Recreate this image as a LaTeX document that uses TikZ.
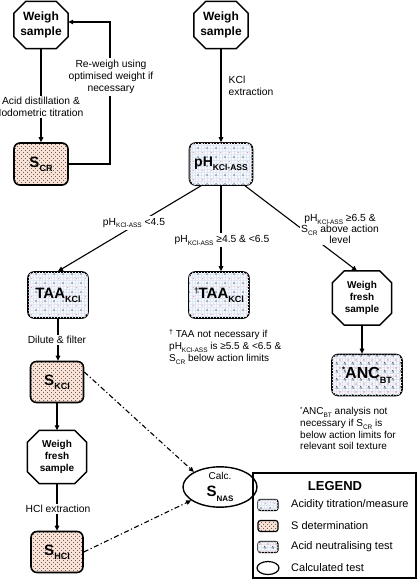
\documentclass[tikz,border=0pt]{standalone}
\usepackage{fontspec}
\setmainfont{Liberation Sans}
\usetikzlibrary{arrows.meta,shapes.geometric,patterns.meta,calc}
\newcommand\Sub[2]{\raisebox{-0.28em}{\fontsize{#1}{#1}\selectfont #2}}
\definecolor{acidbg}{RGB}{247,249,252}
\definecolor{hatchc}{RGB}{222,230,244}
\definecolor{sbg}{RGB}{250,226,214}
\newcommand\octo[7]{% name, x, y, width, height, font size, text
  \node[octt, minimum width=#4, minimum height=#5, #6] (#1) at (#2,#3) {#7};
  \draw[octl] ([xshift=12pt]#1.north west) -- ([xshift=-12pt]#1.north east) -- ([yshift=-12pt]#1.north east) -- ([yshift=12pt]#1.south east) -- ([xshift=-12pt]#1.south east) -- ([xshift=12pt]#1.south west) -- ([yshift=12pt]#1.south west) -- ([yshift=-12pt]#1.north west) -- cycle;
}
\begin{document}
\begin{tikzpicture}[x=1pt,y=-1pt,
  box/.style={rectangle, rounded corners=6pt, line width=1.6pt, draw, align=center, inner sep=0pt, font=\fontsize{15}{16}\selectfont\bfseries},
  acid/.style={fill=acidbg,
    postaction={pattern={Hatch[distance=3pt,line width=0.25pt]}, pattern color=hatchc},
    postaction={pattern={Dots[distance=9pt,radius=0.65pt]}, pattern color=black},
    postaction={pattern={Dots[distance=9pt,radius=0.7pt,xshift=4.5pt,yshift=4.5pt]}, pattern color=red!40}},
  sdet/.style={fill=sbg,
    postaction={pattern={Dots[distance=4pt,radius=0.55pt]}, pattern color=black},
    postaction={pattern={Dots[distance=4pt,radius=0.55pt,xshift=2pt,yshift=2pt]}, pattern color=black}},
  ancp/.style={fill=acidbg,
    postaction={pattern={Hatch[distance=3pt,line width=0.25pt]}, pattern color=hatchc},
    postaction={pattern={Dots[distance=8pt,radius=0.8pt,xshift=4pt,yshift=4pt]}, pattern color=red!45},
    postaction={pattern={Dots[distance=8pt,radius=0.5pt]}, pattern color=black},
    postaction={pattern={Dots[distance=8pt,radius=0.5pt,xshift=1.6pt]}, pattern color=black},
    postaction={pattern={Dots[distance=8pt,radius=0.5pt,xshift=0.8pt,yshift=1.4pt]}, pattern color=black}},
  octt/.style={rectangle, align=center, inner sep=0pt, font=\fontsize{12}{14.5}\selectfont\bfseries},
  octsmall/.style={font=\fontsize{10}{11.7}\selectfont\bfseries},
  octl/.style={line width=1.5pt, line join=miter},
  con/.style={line width=1.1pt, -{Triangle[length=5pt,width=4.5pt]}},
  dd/.style={con, dash pattern=on 5pt off 2.5pt on 1.2pt off 2.5pt},
  lab/.style={fill=white, inner sep=1.5pt, align=center, font=\fontsize{10.3}{12.3}\selectfont},
  note/.style={inner sep=0pt, align=left, font=\fontsize{10}{12.3}\selectfont},
  leg/.style={anchor=west, inner sep=0pt, font=\fontsize{11}{12}\selectfont},
  icon/.style={rectangle, rounded corners=2.5pt, line width=1.2pt, draw, minimum width=20pt, minimum height=11pt, inner sep=0pt},
]
\useasboundingbox (0,0) rectangle (418,580);

% octagons
\octo{w1}{41}{25}{54pt}{47pt}{}{Weigh\\sample}
\octo{w2}{221}{25}{54pt}{47pt}{}{Weigh\\sample}
\octo{w3}{362}{298}{59pt}{54pt}{octsmall}{Weigh\\fresh\\sample}
\octo{w4}{57}{457}{59pt}{53pt}{octsmall}{Weigh\\fresh\\sample}

% boxes
\node[box, sdet, minimum width=54pt, minimum height=42pt] (scr) at (41,164) {S\Sub{9}{CR}};
\node[box, acid, minimum width=63pt, minimum height=42pt, font=\fontsize{14}{15}\selectfont\bfseries] (ph) at (221,164) {pH\Sub{8.5}{KCl-ASS}};
\node[box, acid, minimum width=60pt, minimum height=46pt] (taa1) at (58,295) {TAA\Sub{9}{KCl}};
\node[box, acid, minimum width=60pt, minimum height=46pt] (taa2) at (219,295) {\raisebox{0.35em}{\fontsize{8}{8}\selectfont †}TAA\Sub{9}{KCl}};
\node[box, ancp, minimum width=70pt, minimum height=41pt, font=\fontsize{16}{17}\selectfont\bfseries] (anc) at (367,375) {\raisebox{0.4em}{\fontsize{8}{8}\selectfont *}ANC\Sub{9}{BT}};
\node[box, sdet, minimum width=53pt, minimum height=41pt] (skcl) at (57,382) {S\Sub{9}{KCl}};
\node[box, sdet, minimum width=52pt, minimum height=41pt] (shcl) at (57,552) {S\Sub{9}{HCl}};
\node[ellipse, draw, line width=1.4pt, minimum width=74pt, minimum height=40pt, inner sep=0pt, align=center, font=\fontsize{10}{17}\selectfont] (calc) at (220,487)
  {Calc.\\{\fontsize{15}{17}\selectfont\bfseries S\Sub{8}{NAS}}};

% connectors
\coordinate (rt) at (110,22);
\draw[con] (w1.south) -- (scr.north);
\draw[con] (scr.east) -| (rt) -- (w1.east |- rt);
\draw[con] (w2.south) -- (ph.north);
\draw[con] ([xshift=-20pt]ph.south) -- (taa1.north);
\draw[con] (ph.south) -- (ph.south |- taa2.north);
\draw[con] ([xshift=24pt]ph.south) -- ([xshift=-5pt]w3.north);
\draw[con] (w3.south) -- (w3.south |- anc.north);
\draw[con] (taa1.south) -- (taa1.south |- skcl.north);
\draw[con] (skcl.south) -- (w4.north);
\draw[con] (w4.south) -- (shcl.north);
\draw[dd] ([yshift=10pt]skcl.east) -- (calc.150);
\draw[dd] (shcl.east) -- (calc.205);

% labels on lines
\node[lab] (l1) at (41,107) {Acid distillation \&\\Iodometric titration};
\node[lab] (l2) at (111,77) {Re-weigh using\\optimised weight if\\necessary};
\node[lab, anchor=west, align=left] (l3) at (227,86) {KCl\\extraction};
\node[lab] (l4) at (134,223) {pH\Sub{6.5}{KCl-ASS} <4.5};
\node[lab] (l5) at (222,240) {pH\Sub{6.5}{KCl-ASS} ≥4.5 \& <6.5};
\node[lab, font=\fontsize{10.3}{11}\selectfont] (l6) at (340,229) {pH\Sub{6.5}{KCl-ASS} ≥6.5 \&\\S\Sub{6.5}{CR} above action\\level};
\node[lab] (l7) at (57,340) {Dilute \& filter};
\node[lab] (l8) at (58,509) {HCl extraction};

% notes
\node[note, anchor=north west] (n1) at (169,329) {\raisebox{0.3em}{\fontsize{7}{7}\selectfont †} TAA not necessary if\\pH\Sub{6.5}{KCl-ASS} is ≥5.5 \& <6.5 \&\\S\Sub{6.5}{CR} below action limits};
\node[note, anchor=north west, font=\fontsize{10}{11.7}\selectfont] (n2) at (300,407) {\raisebox{0.35em}{\fontsize{6}{6}\selectfont *}ANC\Sub{6.5}{BT} analysis not\\necessary if S\Sub{6.5}{CR} is\\below action limits for\\relevant soil texture};

% legend
\draw[line width=1.3pt] (253,473) rectangle (416,578);
\node[font=\fontsize{13}{13}\selectfont\bfseries] (lt) at (335,486) {LEGEND};
\node[icon, acid] (i1) at (268,505) {};
\node[icon, sdet] (i2) at (268,526) {};
\node[icon, ancp] (i3) at (268,547) {};
\node[ellipse, draw, line width=1.2pt, minimum width=22pt, minimum height=13pt, inner sep=0pt] (i4) at (268,568) {};
\node[leg] (t1) at (291,505) {Acidity titration/measure};
\node[leg] (t2) at (291,526) {S determination};
\node[leg] (t3) at (291,547) {Acid neutralising test};
\node[leg] (t4) at (291,568) {Calculated test};
\end{tikzpicture}
\end{document}
